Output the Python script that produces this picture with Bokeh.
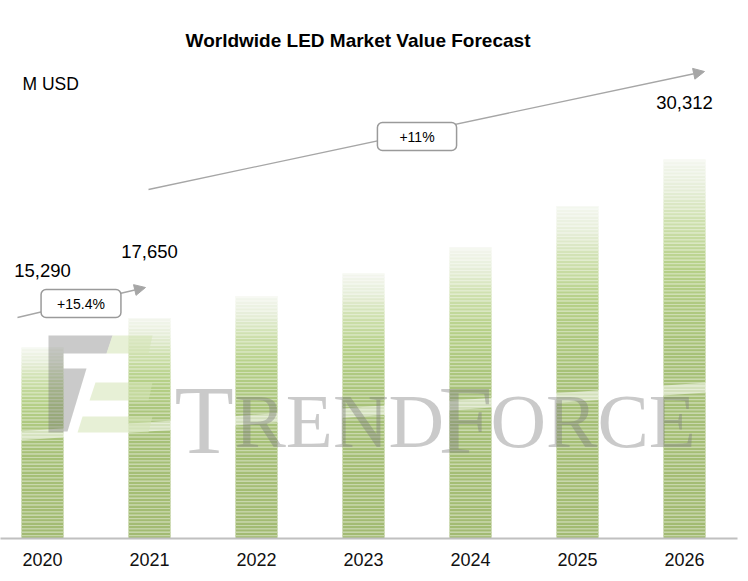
import numpy as np
from bokeh.plotting import figure
from bokeh.models import Range1d, FixedTicker, Label, Arrow, NormalHead
from bokeh.embed import file_html
from bokeh.resources import INLINE

# ---------------- data ----------------
years = ["2020", "2021", "2022", "2023", "2024", "2025", "2026"]
market_value = [15290, 17650, 19400, 21200, 23300, 26600, 30312]
value_label_years = ["2020", "2021", "2026"]
value_label_texts = ["15,290", "17,650", "30,312"]
cagr_texts = ["+15.4%", "+11%"]
title_text = "Worldwide LED Market Value Forecast"
unit_text = "M USD"
watermark_parts = ["T", "REND", "F", "ORCE"]

# ---------------- geometry ----------------
W, H = 740, 573
FRAME_W = 737
FRAME_H = 538
SPACING = 107.0
PXU = 0.0125                   # pixels per data unit
Y_END = FRAME_H / PXU
X0 = -42.0 / SPACING


def X(px):   # pixel x -> data x
    return (px - 42.0) / SPACING


def Y(py):   # pixel y -> data y
    return (538.0 - py) / PXU


p = figure(width=W, height=H, output_backend="svg", toolbar_location=None,
           x_range=Range1d(X0, X0 + FRAME_W / SPACING), y_range=Range1d(0, Y_END),
           y_axis_location=None, min_border_left=0, min_border_right=W - FRAME_W,
           min_border_top=0, min_border_bottom=H - FRAME_H)
p.grid.visible = False
p.outline_line_color = None
p.background_fill_color = "white"
p.border_fill_color = "white"

ax = p.xaxis[0]
ax.ticker = FixedTicker(ticks=list(range(len(years))))
ax.major_label_overrides = {i: y for i, y in enumerate(years)}
ax.axis_line_color = "#c0c0c0"
ax.axis_line_width = 2
ax.major_tick_line_color = None
ax.minor_tick_line_color = None
ax.major_label_text_font = "Liberation Sans"
ax.major_label_text_font_size = "18px"
ax.major_label_text_color = "#111111"
ax.major_label_standoff = 8

# ---------------- striped gradient bars ----------------
stops = [(0.00, (162, 186, 114)), (0.50, (167, 193, 120)), (0.72, (182, 208, 136)),
         (0.84, (206, 224, 174)), (0.92, (229, 237, 215)), (1.00, (243, 246, 238))]


def grad(f):
    for (f0, c0), (f1, c1) in zip(stops[:-1], stops[1:]):
        if f <= f1:
            t = (f - f0) / (f1 - f0)
            return tuple(c0[j] + (c1[j] - c0[j]) * t for j in range(3))
    return stops[-1][1]


def hexc(c):
    return "#%02x%02x%02x" % tuple(int(round(v)) for v in c)


STRIPE = 3.4 / PXU
LINE = 1.2 / PXU
bx, bb, bt, bc = [], [], [], []
lx, lb, lt, lc = [], [], [], []
for i, v in enumerate(market_value):
    n = int(np.ceil(v / STRIPE))
    for k in range(n):
        b = k * STRIPE
        t = min((k + 1) * STRIPE, v)
        c = grad((b + t) / 2.0 / v)
        bx.append(i); bb.append(b); bt.append(t); bc.append(hexc(c))
        light = tuple(c[j] + (255 - c[j]) * 0.4 for j in range(3))
        lx.append(i); lt.append(t); lb.append(max(b, t - LINE)); lc.append(hexc(light))

BAR_W = 42.0 / SPACING
p.vbar(x=bx, bottom=bb, top=bt, width=BAR_W, fill_color=bc, line_color=None)
p.vbar(x=lx, bottom=lb, top=lt, width=BAR_W, fill_color=lc, line_color=None)

# light band of the watermark across the bars
band = [(18, 431), (706, 382), (706, 392), (18, 440)]
p.patch([X(a) for a, b in band], [Y(b) for a, b in band], fill_color="white",
        fill_alpha=0.5, line_color=None)

# ---------------- TrendForce logo (watermark) ----------------
gray_shapes = [
    [(48, 335), (112, 335), (106, 353), (63, 353), (63, 432), (48, 432)],
    [(63, 368), (86, 368), (67, 431), (63, 431)],
]
green_shapes = [
    [(112, 335), (152, 335), (148, 353), (106, 353)],
    [(95, 382), (152, 382), (148, 400), (89, 400)],
    [(82, 416), (152, 416), (148, 432), (77, 432)],
]
for s in gray_shapes:
    p.patch([X(a) for a, b in s], [Y(b) for a, b in s], fill_color="#6d6d6d",
            fill_alpha=0.36, line_color=None)
for s in green_shapes:
    p.patch([X(a) for a, b in s], [Y(b) for a, b in s], fill_color="#d4e4b5",
            fill_alpha=0.55, line_color=None)

wm_x = [174, 234, 438, 490]
wm_size = ["97px", "77px", "97px", "77px"]
for txt, xx, fs in zip(watermark_parts, wm_x, wm_size):
    p.add_layout(Label(x=X(xx), y=Y(420), text=txt, text_font="Liberation Serif",
                       text_font_size=fs, text_color="#7a7a7a", text_alpha=0.4,
                       text_align="left", text_baseline="alphabetic"))

# ---------------- titles ----------------
p.add_layout(Label(x=X(357.5), y=Y(40), text=title_text, text_font="Liberation Sans",
                   text_font_style="bold", text_font_size="19px", text_color="black",
                   text_align="center", text_baseline="middle"))
p.add_layout(Label(x=X(22), y=Y(83), text=unit_text, text_font="Liberation Sans",
                   text_font_size="17.5px", text_color="black",
                   text_align="left", text_baseline="middle"))

# ---------------- value labels ----------------
label_gap_px = [77, 66, 57]
for yr, txt, gap in zip(value_label_years, value_label_texts, label_gap_px):
    i = years.index(yr)
    p.add_layout(Label(x=i, y=market_value[i] + gap / PXU, text=txt,
                       text_font="Liberation Sans", text_font_size="18.5px",
                       text_color="black", text_align="center", text_baseline="middle"))

# ---------------- growth arrows ----------------
GRAY = "#a6a6a6"
arrows = [((17, 317), (145, 287)), ((148, 189), (704, 71))]
for (sx, sy), (ex, ey) in arrows:
    p.add_layout(Arrow(x_start=X(sx), y_start=Y(sy), x_end=X(ex), y_end=Y(ey),
                       line_color=GRAY, line_width=1.3,
                       end=NormalHead(size=11, fill_color=GRAY, line_color=GRAY)))

box_centers = [(80.5, 303), (416.5, 136)]
box_pads = [dict(left=16, right=16, top=6, bottom=6), dict(left=22, right=22, top=6, bottom=6)]
for txt, (cx, cy), pad in zip(cagr_texts, box_centers, box_pads):
    p.add_layout(Label(x=X(cx), y=Y(cy), text=txt, text_font="Liberation Sans",
                       text_font_size="14px", text_color="black",
                       text_align="center", text_baseline="middle",
                       background_fill_color="white", border_line_color="#9a9a9a",
                       border_line_width=1.5, padding=pad, border_radius=5))

open("out.html", "w").write(file_html(p, INLINE))
